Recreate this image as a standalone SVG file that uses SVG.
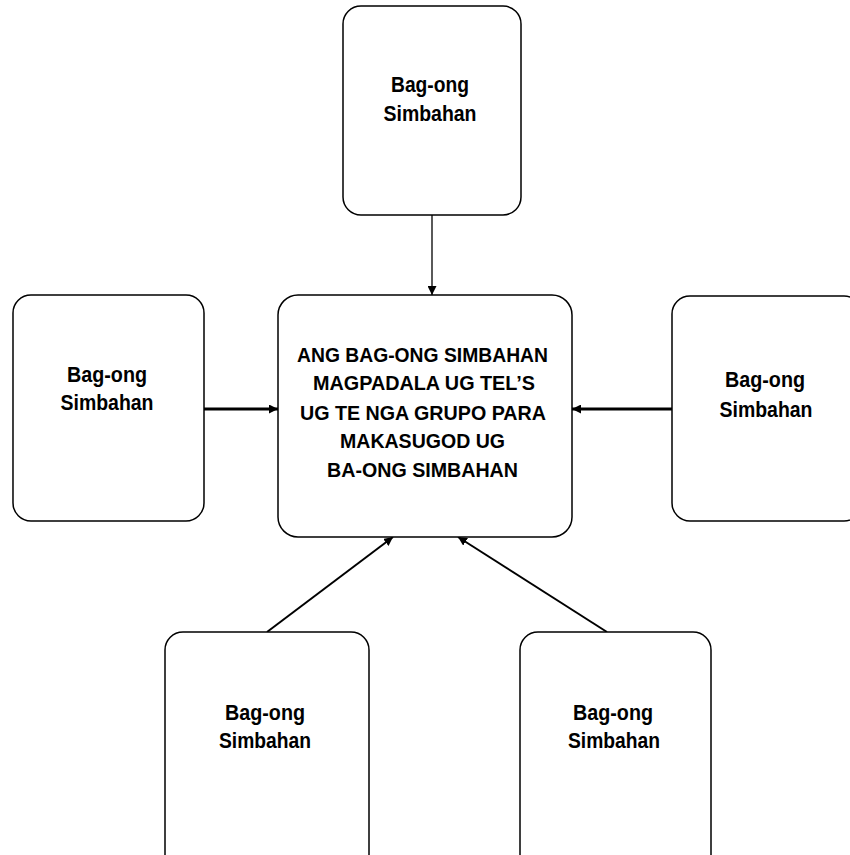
<svg xmlns="http://www.w3.org/2000/svg" width="850" height="855" viewBox="0 0 850 855">
<style>
.node rect{fill:#fff;stroke:#000;stroke-width:1.5}
text{font-family:"Liberation Sans",Arial,sans-serif;font-weight:bold;font-size:22px;fill:#000;text-anchor:middle}
#center text{font-size:21px}
.c line{stroke:#000}
</style>
<defs>
<marker id="ah" viewBox="0 0 10 10" refX="10" refY="5" markerWidth="9" markerHeight="9" markerUnits="userSpaceOnUse" orient="auto">
<path d="M0,0 L10,5 L0,10 z" fill="#000"/>
</marker>
</defs>
<rect width="850" height="855" fill="#fff"/>
<g class="c" id="connectors">
<line x1="432" y1="215" x2="432" y2="295" stroke-width="1.3" marker-end="url(#ah)"/>
<line x1="204" y1="409" x2="278" y2="409" stroke-width="3" marker-end="url(#ah)"/>
<line x1="672" y1="409" x2="572" y2="409" stroke-width="3" marker-end="url(#ah)"/>
<line x1="267" y1="632" x2="393" y2="537" stroke-width="2" marker-end="url(#ah)"/>
<line x1="607" y1="632" x2="458" y2="537" stroke-width="2" marker-end="url(#ah)"/>
</g>
<g class="node" id="top">
<rect x="343" y="6" width="178" height="209" rx="18"/>
<text x="430" y="92" textLength="78" lengthAdjust="spacingAndGlyphs">Bag-ong</text>
<text x="430" y="121" textLength="93" lengthAdjust="spacingAndGlyphs">Simbahan</text>
</g>
<g class="node" id="center">
<rect x="278" y="295" width="294" height="242" rx="20"/>
<text x="422.5" y="362" textLength="251" lengthAdjust="spacingAndGlyphs">ANG BAG-ONG SIMBAHAN</text>
<text x="424" y="390" textLength="222" lengthAdjust="spacingAndGlyphs">MAGPADALA UG TEL’S</text>
<text x="423" y="420" textLength="246" lengthAdjust="spacingAndGlyphs">UG TE NGA GRUPO PARA</text>
<text x="422.5" y="448" textLength="165" lengthAdjust="spacingAndGlyphs">MAKASUGOD UG</text>
<text x="422.5" y="477" textLength="191" lengthAdjust="spacingAndGlyphs">BA-ONG SIMBAHAN</text>
</g>
<g class="node" id="left">
<rect x="13" y="295" width="191" height="226" rx="18"/>
<text x="107" y="382" textLength="80" lengthAdjust="spacingAndGlyphs">Bag-ong</text>
<text x="107" y="410" textLength="93" lengthAdjust="spacingAndGlyphs">Simbahan</text>
</g>
<g class="node" id="right">
<rect x="672" y="296" width="190" height="225" rx="18"/>
<text x="765" y="387" textLength="80" lengthAdjust="spacingAndGlyphs">Bag-ong</text>
<text x="766" y="417" textLength="93" lengthAdjust="spacingAndGlyphs">Simbahan</text>
</g>
<g class="node" id="bottom-left">
<rect x="165" y="632" width="204" height="250" rx="18"/>
<text x="265" y="720" textLength="80" lengthAdjust="spacingAndGlyphs">Bag-ong</text>
<text x="265" y="748" textLength="92" lengthAdjust="spacingAndGlyphs">Simbahan</text>
</g>
<g class="node" id="bottom-right">
<rect x="520" y="632" width="191" height="250" rx="18"/>
<text x="613" y="720" textLength="80" lengthAdjust="spacingAndGlyphs">Bag-ong</text>
<text x="614" y="748" textLength="92" lengthAdjust="spacingAndGlyphs">Simbahan</text>
</g>
</svg>
